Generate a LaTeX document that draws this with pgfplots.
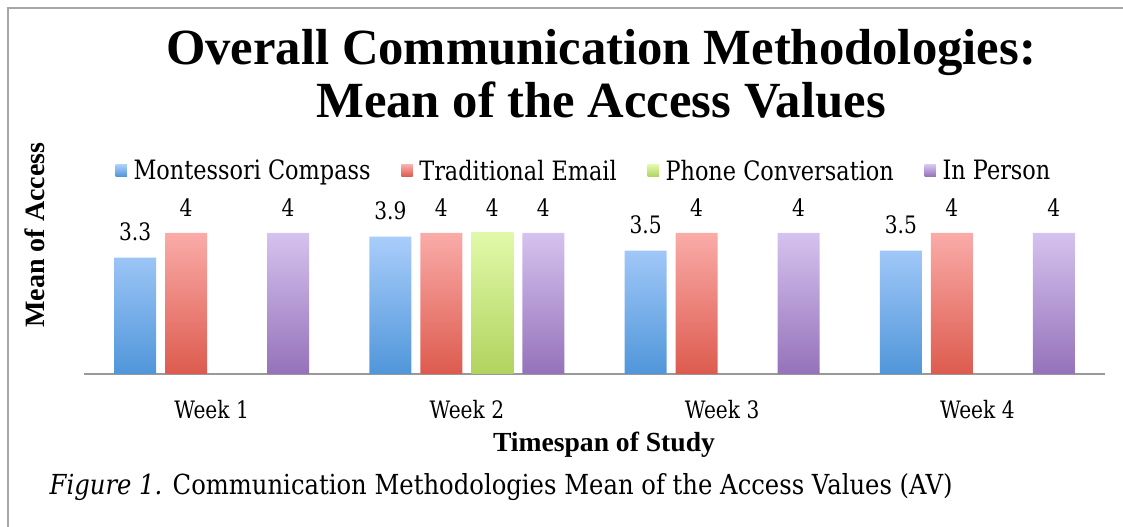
\documentclass[border=0pt]{standalone}
\usepackage{pgfplots}
\pgfplotsset{compat=1.18}
\usepackage{fontspec}
\setmainfont{DejaVu Serif}[FakeStretch=0.84]
\newfontfamily\titlefont{Liberation Serif}
\newfontfamily\capfont{DejaVu Serif}[FakeStretch=0.88]
\definecolor{bT}{HTML}{A9CDFB}\definecolor{bB}{HTML}{5096DA}
\definecolor{rT}{HTML}{FAABA8}\definecolor{rB}{HTML}{DD5B4E}
\definecolor{gT}{HTML}{E0F9A9}\definecolor{gB}{HTML}{B1D35E}
\definecolor{pT}{HTML}{D5C2EE}\definecolor{pB}{HTML}{9572BA}
\pgfplotsset{
  leg/.style n args={2}{legend image code/.code={
    \path[top color=#1,bottom color=#2,draw=none] (0pt,-4pt) rectangle (8.5pt,4.5pt);}}
}
\begin{document}
\begin{tikzpicture}
\begin{scope}[x=0.75pt,y=0.75pt]
\path[use as bounding box] (0,0) rectangle (1123,527);
\draw[black!35,line width=1.5pt] (8,0) -- (8,519) -- (1123,519);
% title
\node[font=\titlefont\bfseries\fontsize{38}{40}\selectfont,align=center,anchor=center] at (601,453) {Overall Communication Methodologies:\\Mean of the Access Values};
% y label
\node[font=\titlefont\bfseries\fontsize{21}{24}\selectfont,rotate=90] at (35,292) {Mean of Access};
% x label
\node[font=\titlefont\bfseries\fontsize{20.7}{24}\selectfont] at (604,82) {Timespan of Study};
% caption
\node[font=\capfont\fontsize{20.7}{24}\selectfont,anchor=base west] at (45,32) {\textit{Figure 1.} Communication Methodologies Mean of the Access Values (AV)};
\end{scope}
\begin{axis}[
  at={(63pt,114.75pt)}, anchor=south west,
  scale only axis, width=765.75pt, height=105.75pt,
  xmin=-0.5, xmax=3.5, ymin=0, ymax=4,
  clip=false,
  ybar=6.75pt, bar width=31.5pt,
  axis x line*=bottom, axis y line=none,
  x axis line style={black!40,line width=1.2pt,-},
  xtick={0,1,2,3}, xticklabels={Week 1,Week 2,Week 3,Week 4},
  major tick length=0pt,
  xticklabel style={font=\fontsize{18}{20}\selectfont, yshift=-16pt},
  ytick=\empty,
  nodes near coords,
  every node near coord/.append style={font=\fontsize{18}{20}\selectfont, black, yshift=9pt},
  point meta=explicit symbolic,
  legend columns=-1,
  legend style={draw=none, fill=none, at={(0.49,1.44)}, anchor=center,
    font=\fontsize{20}{22}\selectfont,
    /tikz/every odd column/.append style={column sep=3pt},
    /tikz/every even column/.append style={column sep=21pt}},
  legend cell align=left,
]
\addplot[draw=none, top color=bT, bottom color=bB, leg={bT}{bB}] coordinates {(0,3.3)[3.3] (1,3.9)[3.9] (2,3.5)[3.5] (3,3.5)[3.5]};
\addplot[draw=none, top color=rT, bottom color=rB, leg={rT}{rB}] coordinates {(0,4)[4] (1,4)[4] (2,4)[4] (3,4)[4]};
\addplot[draw=none, top color=gT, bottom color=gB, leg={gT}{gB}] coordinates {(1,4)[4]};
\addplot[draw=none, top color=pT, bottom color=pB, leg={pT}{pB}] coordinates {(0,4)[4] (1,4)[4] (2,4)[4] (3,4)[4]};
\legend{Montessori Compass, Traditional Email, Phone Conversation, In Person}
\end{axis}
\end{tikzpicture}
\end{document}
